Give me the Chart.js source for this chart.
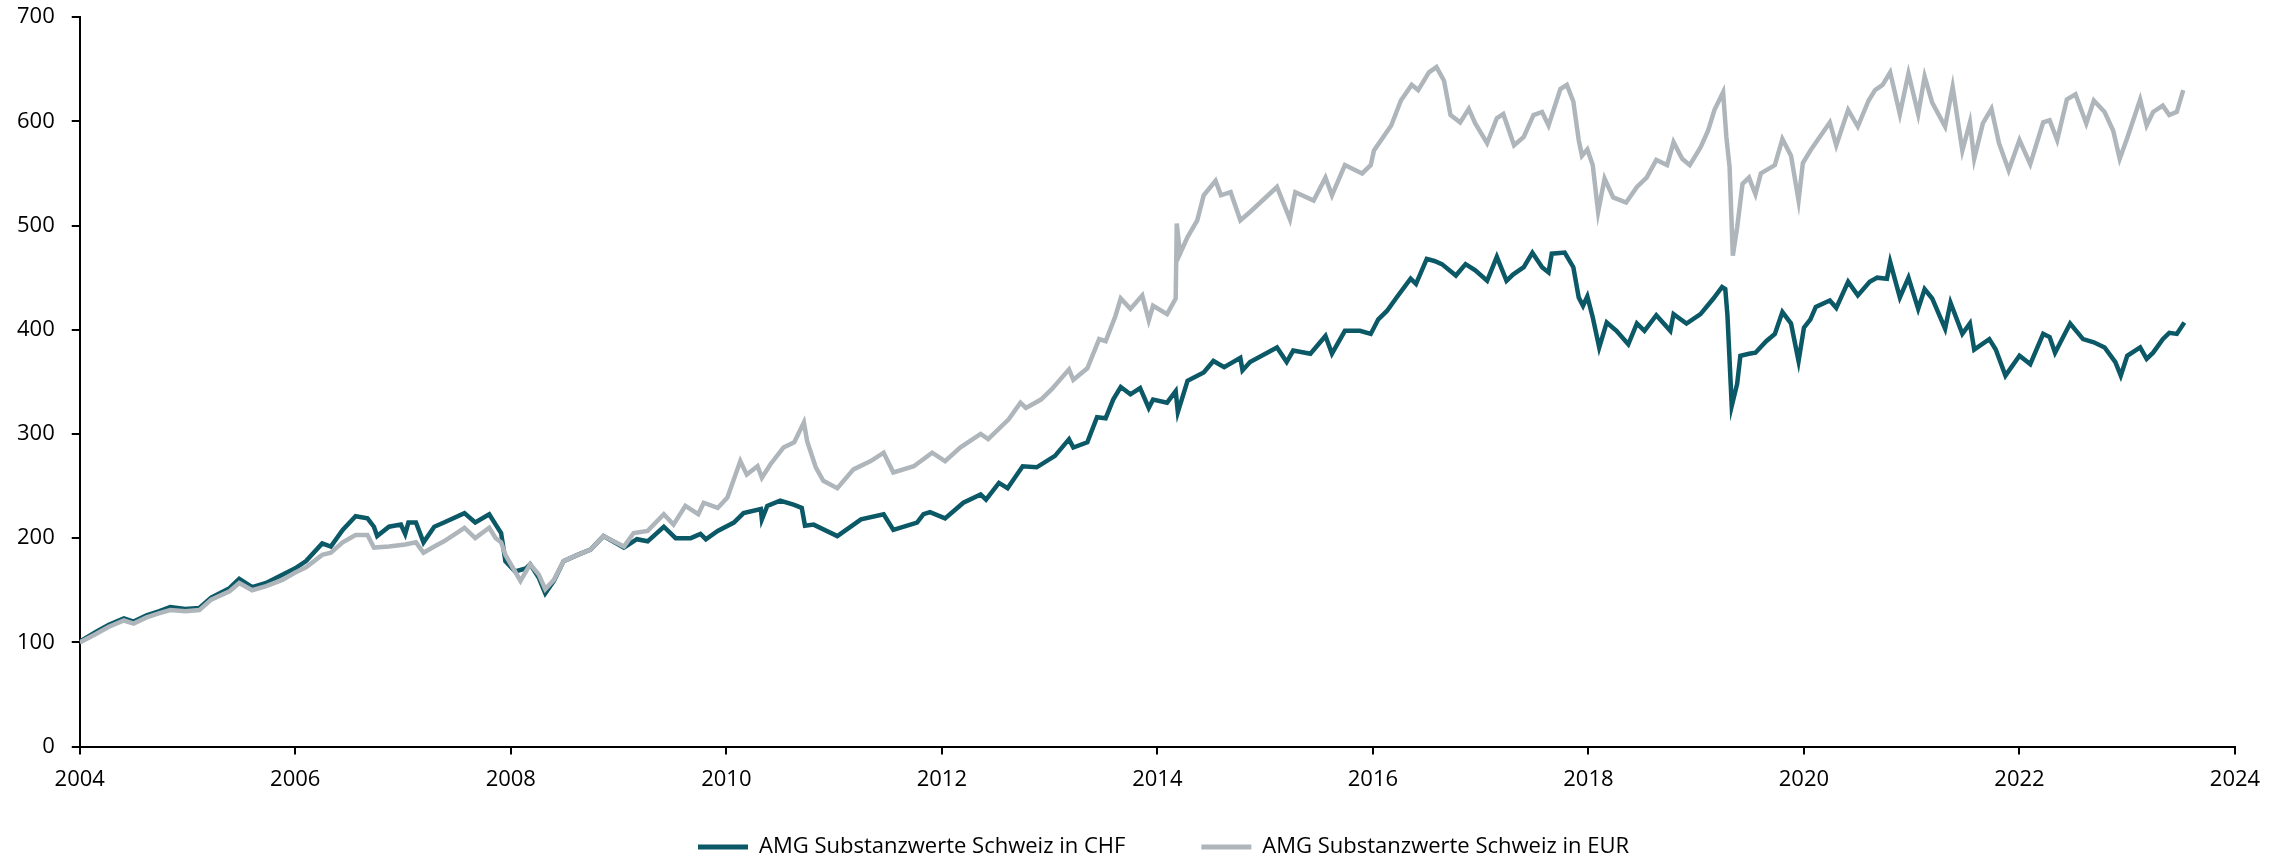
<!DOCTYPE html>
<html>
<head>
<meta charset="utf-8">
<script src="https://cdn.jsdelivr.net/npm/chart.js@4.4.1/dist/chart.umd.min.js"></script>
<style>
  html, body { margin: 0; padding: 0; background: #fff; }
  #wrap { width: 2292px; height: 858px; }
</style>
</head>
<body>
<div id="wrap"><canvas id="chart"></canvas></div>
<script>
// Werte (Jahr als Dezimalzahl, Index 2004 = 100)
const chfYears = [2004.00,2004.02,2004.15,2004.27,2004.41,2004.50,2004.62,2004.74,2004.84,2004.98,2005.11,2005.22,2005.39,2005.48,2005.60,2005.73,2005.88,2006.00,2006.10,2006.25,2006.33,2006.44,2006.56,2006.67,2006.73,2006.76,2006.87,2006.98,2007.02,2007.05,2007.12,2007.19,2007.29,2007.38,2007.57,2007.67,2007.80,2007.86,2007.91,2007.95,2008.04,2008.14,2008.18,2008.26,2008.32,2008.40,2008.49,2008.62,2008.74,2008.86,2009.05,2009.17,2009.27,2009.42,2009.53,2009.67,2009.76,2009.81,2009.92,2010.07,2010.16,2010.32,2010.33,2010.38,2010.50,2010.63,2010.70,2010.73,2010.81,2011.03,2011.25,2011.46,2011.55,2011.77,2011.83,2011.89,2012.03,2012.20,2012.36,2012.41,2012.53,2012.61,2012.75,2012.88,2013.05,2013.18,2013.22,2013.35,2013.44,2013.52,2013.59,2013.66,2013.75,2013.84,2013.92,2013.96,2014.09,2014.17,2014.19,2014.28,2014.43,2014.52,2014.62,2014.77,2014.79,2014.86,2015.11,2015.20,2015.26,2015.42,2015.56,2015.62,2015.74,2015.88,2015.98,2016.05,2016.13,2016.22,2016.35,2016.40,2016.50,2016.57,2016.64,2016.77,2016.86,2016.95,2017.06,2017.15,2017.24,2017.30,2017.40,2017.48,2017.57,2017.63,2017.66,2017.78,2017.86,2017.91,2017.95,2017.99,2018.04,2018.10,2018.17,2018.26,2018.37,2018.45,2018.52,2018.63,2018.76,2018.79,2018.91,2019.04,2019.16,2019.24,2019.27,2019.29,2019.33,2019.38,2019.41,2019.49,2019.55,2019.65,2019.73,2019.80,2019.88,2019.95,2020.00,2020.06,2020.11,2020.24,2020.30,2020.41,2020.50,2020.61,2020.68,2020.77,2020.80,2020.89,2020.97,2021.06,2021.12,2021.19,2021.31,2021.36,2021.47,2021.54,2021.58,2021.72,2021.78,2021.87,2022.00,2022.10,2022.22,2022.28,2022.33,2022.47,2022.59,2022.69,2022.79,2022.89,2022.94,2023.00,2023.12,2023.18,2023.24,2023.33,2023.39,2023.46,2023.53];
const chfValues = [100,102,110,117,123,120,126,130,134,132,133,143,152,161,153,157,165,171,178,195,192,208,221,219,211,202,211,213,204,215,215,196,211,215,224,215,223,213,205,178,168,171,175,162,147,159,178,184,189,202,191,199,197,211,200,200,204,199,207,215,224,228,218,231,236,232,229,212,213,202,218,223,208,215,223,225,219,234,242,237,253,248,269,268,279,295,287,292,316,315,333,345,338,344,325,333,330,341,321,351,359,370,364,373,361,369,383,369,380,377,394,377,399,399,396,410,418,431,449,444,468,466,463,452,463,457,447,470,447,453,460,474,460,455,473,474,460,431,423,432,412,383,407,399,386,406,399,414,399,415,406,415,430,441,439,414,327,348,375,377,378,389,396,417,406,370,402,410,422,428,421,446,433,446,450,449,465,431,450,420,439,430,401,426,396,406,381,391,381,356,375,367,396,393,378,406,391,388,383,369,356,375,383,372,378,391,397,396,407];

const eurYears = [2004.00,2004.15,2004.27,2004.41,2004.50,2004.62,2004.74,2004.84,2004.98,2005.11,2005.22,2005.39,2005.48,2005.60,2005.73,2005.88,2006.00,2006.10,2006.25,2006.33,2006.44,2006.56,2006.67,2006.73,2006.87,2007.02,2007.12,2007.19,2007.29,2007.38,2007.57,2007.67,2007.80,2007.86,2007.91,2007.95,2008.09,2008.18,2008.26,2008.32,2008.40,2008.49,2008.62,2008.74,2008.86,2009.05,2009.14,2009.27,2009.42,2009.51,2009.62,2009.74,2009.79,2009.92,2010.01,2010.13,2010.19,2010.29,2010.33,2010.41,2010.53,2010.63,2010.72,2010.75,2010.83,2010.90,2011.03,2011.18,2011.34,2011.46,2011.55,2011.74,2011.91,2012.03,2012.17,2012.36,2012.43,2012.62,2012.73,2012.78,2012.92,2013.02,2013.18,2013.22,2013.35,2013.46,2013.52,2013.61,2013.66,2013.75,2013.86,2013.92,2013.96,2014.09,2014.17,2014.18,2014.21,2014.28,2014.37,2014.43,2014.54,2014.59,2014.68,2014.77,2014.86,2015.11,2015.23,2015.28,2015.45,2015.56,2015.62,2015.74,2015.90,2015.98,2016.01,2016.03,2016.17,2016.26,2016.36,2016.42,2016.52,2016.59,2016.66,2016.72,2016.81,2016.89,2016.95,2017.06,2017.15,2017.21,2017.31,2017.40,2017.49,2017.57,2017.63,2017.74,2017.80,2017.86,2017.91,2017.94,2017.99,2018.04,2018.09,2018.15,2018.23,2018.35,2018.45,2018.54,2018.63,2018.73,2018.79,2018.87,2018.94,2019.04,2019.11,2019.17,2019.25,2019.28,2019.31,2019.34,2019.38,2019.43,2019.49,2019.55,2019.60,2019.73,2019.80,2019.88,2019.95,2019.99,2020.06,2020.18,2020.24,2020.30,2020.41,2020.50,2020.60,2020.66,2020.73,2020.80,2020.89,2020.97,2021.06,2021.12,2021.19,2021.31,2021.38,2021.47,2021.54,2021.58,2021.66,2021.74,2021.81,2021.90,2022.00,2022.10,2022.22,2022.28,2022.35,2022.44,2022.52,2022.62,2022.69,2022.79,2022.87,2022.93,2023.00,2023.12,2023.18,2023.24,2023.33,2023.39,2023.46,2023.52];
const eurValues = [100,108,115,121,118,124,128,131,130,131,141,149,157,150,154,160,167,172,184,186,196,203,203,191,192,194,196,186,192,197,210,200,210,200,196,184,159,175,165,151,160,178,184,189,202,192,205,207,223,213,231,223,234,229,239,274,261,269,258,271,287,292,311,293,268,255,248,266,274,282,263,269,282,274,287,300,295,314,330,325,333,343,362,352,363,391,389,413,430,420,433,409,423,415,430,502,473,489,505,529,543,529,532,505,513,537,506,532,524,546,529,558,550,558,572,575,596,620,635,630,647,652,639,606,599,612,598,579,603,607,577,585,606,609,596,631,635,619,582,567,573,558,513,545,527,522,537,546,563,558,580,564,558,575,591,611,628,585,556,471,498,540,546,530,550,558,583,567,524,560,572,590,599,577,611,595,620,630,635,647,607,646,607,643,618,595,633,572,599,564,598,612,579,553,582,559,599,601,582,621,626,598,620,609,591,564,584,621,596,609,615,606,609,630];

const xTicks = [2004, 2006, 2008, 2010, 2012, 2014, 2016, 2018, 2020, 2022, 2024];
const seriesNames = ['AMG Substanzwerte Schweiz in CHF', 'AMG Substanzwerte Schweiz in EUR'];

const chfColor = '#0b5866';
const eurColor = '#aeb6bb';

function toPoints(xs, ys) {
    return xs.map(function(x, i){ return {x: x, y: ys[i]}; });
}

// Legende wie im Original platzieren (erste Linie bei x=698, Textmitte bei y~844)
const legendPlace = {
    id: 'legendPlace',
    afterLayout: function(chart) {
        const lg = chart.legend;
        const pad = lg.options.labels.padding;
        const start = (lg.left + pad + lg.right - lg.lineWidths[0]) / 2;
        const d = 698 - start;
        lg.left += d;
        lg.right += d;
        lg.top = 847 - pad - lg.options.labels.font.size / 2;
        lg.bottom = chart.height;
    }
};

const axisFont = { family: "'Open Sans', 'DejaVu Sans', sans-serif", size: 22 };

new Chart(document.getElementById('chart').getContext('2d'), {
    type: 'line',
    data: {
        datasets: [{
            label: seriesNames[0],
            data: toPoints(chfYears, chfValues),
            borderColor: chfColor,
            backgroundColor: chfColor,
            borderWidth: 4.5,
            pointRadius: 0,
            tension: 0,
            order: 1
        }, {
            label: seriesNames[1],
            data: toPoints(eurYears, eurValues),
            borderColor: eurColor,
            backgroundColor: eurColor,
            borderWidth: 4.5,
            pointRadius: 0,
            tension: 0,
            order: 0
        }]
    },
    options: {
        responsive: true,
        maintainAspectRatio: false,
        animation: false,
        layout: { padding: { left: 0, right: 57, top: 0, bottom: 6 } },
        scales: {
            x: {
                type: 'linear',
                min: 2004,
                max: 2024,
                afterBuildTicks: function(scale){ scale.ticks = xTicks.map(function(v){ return {value: v}; }); },
                ticks: {
                    callback: function(v){ return String(v); },
                    font: axisFont,
                    color: '#000',
                    padding: 12,
                    maxRotation: 0,
                    autoSkip: false
                },
                grid: { display: true, drawOnChartArea: false, drawTicks: true, tickLength: 8, color: '#000', lineWidth: 2 },
                border: { display: true, color: '#000', width: 2 }
            },
            y: {
                min: 0,
                max: 700,
                ticks: {
                    stepSize: 100,
                    font: { family: axisFont.family, size: 22, lineHeight: 0.01 },
                    color: '#000',
                    padding: 17
                },
                grid: { display: true, drawOnChartArea: false, drawTicks: true, tickLength: 8, color: '#000', lineWidth: 2 },
                border: { display: true, color: '#000', width: 2 }
            }
        },
        plugins: {
            legend: {
                position: 'bottom',
                maxHeight: 47,
                labels: {
                    boxWidth: 50,
                    boxHeight: 5,
                    padding: 76,
                    color: '#000',
                    font: { family: "'Open Sans', 'DejaVu Sans', sans-serif", size: 22 },
                    generateLabels: function(chart) {
                        const items = Chart.defaults.plugins.legend.labels.generateLabels(chart);
                        items.forEach(function(it){ it.lineWidth = 0; });
                        items.sort(function(a, b){ return a.datasetIndex - b.datasetIndex; });
                        return items;
                    }
                }
            },
            tooltip: { enabled: false }
        }
    },
    plugins: [legendPlace]
});
</script>
</body>
</html>
